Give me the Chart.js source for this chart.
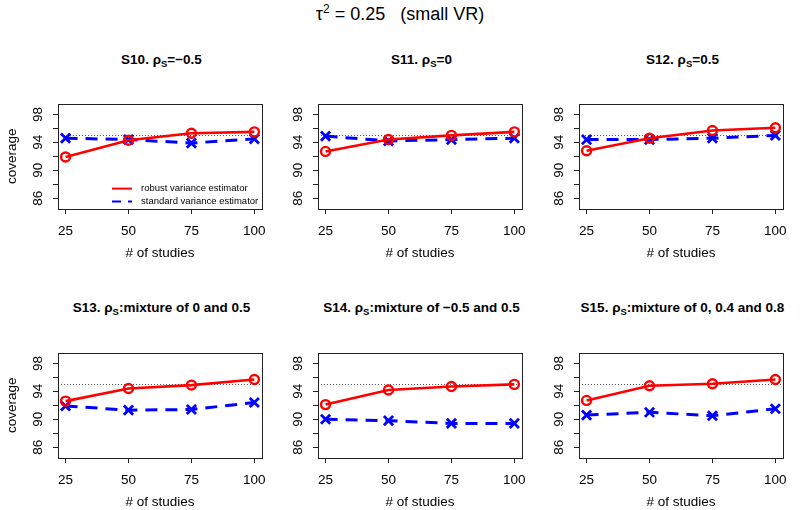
<!DOCTYPE html>
<html>
<head>
<meta charset="utf-8">
<script src="https://cdn.jsdelivr.net/npm/chart.js@4.4.0/dist/chart.umd.min.js"></script>
<style>
body { margin: 0; background: #fff; }
#page { position: relative; width: 800px; height: 510px; overflow: hidden; font-family: "Liberation Sans", Arial, sans-serif; color: #000; }
#page canvas { position: absolute; }
.ptitle { position: absolute; text-align: center; font-weight: bold; font-size: 13.5px; white-space: nowrap; }
.ptitle sub { font-size: 9.5px; vertical-align: -3px; line-height: 0; }
#main { position: absolute; left: 0; top: 4px; width: 800px; text-align: center; font-size: 18px; }
#main sup { font-size: 12px; vertical-align: 7px; line-height: 0; }
</style>
</head>
<body>
<div id="page">
    <div id="main">τ<sup>2</sup> = 0.25&nbsp;&nbsp;&nbsp;(small VR)</div>
</div>
<script>
// data
const studies = [25, 50, 75, 100];
const scenarioIds = ["S10", "S11", "S12", "S13", "S14", "S15"];
const rhoText = ["=\u22120.5", "=0", "=0.5", ":mixture of 0 and 0.5", ":mixture of \u22120.5 and 0.5", ":mixture of 0, 0.4 and 0.8"];
const robustCoverage = [
    [91.9, 94.3, 95.3, 95.5],
    [92.7, 94.4, 95.0, 95.5],
    [92.8, 94.6, 95.7, 96.1],
    [92.6, 94.4, 94.9, 95.7],
    [92.1, 94.2, 94.7, 95.0],
    [92.7, 94.8, 95.1, 95.7],
];
const standardCoverage = [
    [94.6, 94.4, 93.9, 94.5],
    [94.9, 94.2, 94.4, 94.6],
    [94.4, 94.4, 94.6, 95.0],
    [91.9, 91.3, 91.4, 92.4],
    [90.0, 89.8, 89.4, 89.4],
    [90.6, 91.0, 90.5, 91.5],
];
const nominal = 95;
const yTicks = [86, 88, 90, 92, 94, 96, 98];
const yLabels = [86, 90, 94, 98];
const xRange = [22, 103];
const yRange = [84.44, 99.56];
const legendLabels = ["robust variance estimator", "standard variance estimator"];

// layout
const boxLefts = [58, 318, 579];
const boxTops = [93, 342];
const boxW = 207, boxH = 116;
const axisW = 58, axisH = 52;
const padTop = 5, padRight = 10;

Chart.defaults.font.family = '"Liberation Sans", Arial, sans-serif';
Chart.defaults.color = "#000";

const framePlugin = {
    id: "frame",
    beforeDatasetsDraw(chart) {
        const { ctx, chartArea: a, scales: { y } } = chart;
        const yy = Math.round(y.getPixelForValue(nominal)) + 0.5;
        ctx.save();
        ctx.strokeStyle = "#555";
        ctx.lineWidth = 1;
        ctx.setLineDash([1, 2]);
        ctx.beginPath();
        ctx.moveTo(a.left, yy);
        ctx.lineTo(a.right, yy);
        ctx.stroke();
        ctx.restore();
    },
    afterDatasetsDraw(chart, args, opts) {
        const { ctx, chartArea: a } = chart;
        ctx.save();
        ctx.strokeStyle = "#222";
        ctx.lineWidth = 1;
        ctx.strokeRect(Math.round(a.left) + 0.5, Math.round(a.top) + 0.5,
            Math.round(a.right - a.left), Math.round(a.bottom - a.top));

        // legend inside the first panel
        if (opts.legend) {
            ctx.font = '9.5px "Liberation Sans", Arial, sans-serif';
            ctx.textBaseline = "middle";
            chart.data.datasets.forEach((ds, i) => {
                const ly = a.top + 85 + i * 13;
                ctx.strokeStyle = ds.borderColor;
                ctx.lineWidth = 2;
                ctx.setLineDash(i === 1 ? [9, 7] : []);
                ctx.beginPath();
                ctx.moveTo(a.left + 54, ly);
                ctx.lineTo(a.left + 74, ly);
                ctx.stroke();
                ctx.setLineDash([]);
                ctx.fillStyle = "#000";
                ctx.fillText(legendLabels[i], a.left + 83, ly);
            });
        }
        ctx.restore();
    },
};

const page = document.getElementById("page");

scenarioIds.forEach((id, k) => {
    const row = Math.floor(k / 3), col = k % 3;
    const left = boxLefts[col] - axisW;
    const top = boxTops[row] - padTop;

    const title = document.createElement("div");
    title.className = "ptitle";
    title.style.left = (boxLefts[col] - 40) + "px";
    title.style.width = (boxW + 80) + "px";
    title.style.top = (boxTops[row] - 42 + (row === 0 ? 1 : 0)) + "px";
    title.innerHTML = id + ". \u03c1<sub>S</sub>" + rhoText[k];
    page.appendChild(title);

    const canvas = document.createElement("canvas");
    canvas.width = axisW + boxW + padRight;
    canvas.height = padTop + boxH + axisH;
    canvas.style.left = left + "px";
    canvas.style.top = top + "px";
    page.appendChild(canvas);

    new Chart(canvas, {
        type: "line",
        data: {
            datasets: [
                {
                    label: legendLabels[0],
                    data: studies.map((s, i) => ({ x: s, y: robustCoverage[k][i] })),
                    borderColor: "#ff0000",
                    borderWidth: 2.6,
                    pointStyle: "circle",
                    pointRadius: 4.5,
                    pointBorderWidth: 2.4,
                    pointBackgroundColor: "rgba(0,0,0,0)",
                    pointBorderColor: "#ff0000",
                    order: 1,
                },
                {
                    label: legendLabels[1],
                    data: studies.map((s, i) => ({ x: s, y: standardCoverage[k][i] })),
                    borderColor: "#0000ff",
                    borderWidth: 3,
                    borderDash: [12, 8],
                    pointStyle: "crossRot",
                    pointRadius: 6.5,
                    pointBorderWidth: 2.8,
                    pointBorderColor: "#0000ff",
                    order: 2,
                },
            ],
        },
        options: {
            responsive: false,
            animation: false,
            clip: false,
            layout: { padding: { top: padTop, right: padRight, left: 0, bottom: 0 } },
            plugins: {
                legend: { display: false },
                tooltip: { enabled: false },
                frame: { legend: k === 0 },
            },
            scales: {
                x: {
                    type: "linear",
                    min: xRange[0],
                    max: xRange[1],
                    afterBuildTicks: (s) => { s.ticks = studies.map((v) => ({ value: v })); },
                    afterFit: (s) => { s.height = axisH; },
                    border: { display: false },
                    grid: { drawOnChartArea: false, drawTicks: true, tickLength: 5, color: "#222" },
                    ticks: { autoSkip: false, maxRotation: 0, padding: 9, font: { size: 13.5 } },
                    title: { display: true, text: "# of studies", font: { size: 13.5 }, padding: { top: 0, bottom: 0 } },
                },
                y: {
                    min: yRange[0],
                    max: yRange[1],
                    afterBuildTicks: (s) => { s.ticks = yTicks.map((v) => ({ value: v })); },
                    afterFit: (s) => { s.width = axisW; },
                    border: { display: false },
                    grid: { drawOnChartArea: false, drawTicks: true, tickLength: 5, color: "#222" },
                    ticks: {
                        autoSkip: false,
                        minRotation: 90,
                        maxRotation: 90,
                        crossAlign: "center",
                        padding: 7.5,
                        font: { size: 13.5 },
                        callback: (v) => (yLabels.includes(v) ? String(v) : ""),
                    },
                    title: { display: col === 0, text: "coverage", font: { size: 13.5 }, padding: { top: 4, bottom: 0 } },
                },
            },
        },
        plugins: [framePlugin],
    });
});
</script>
</body>
</html>
